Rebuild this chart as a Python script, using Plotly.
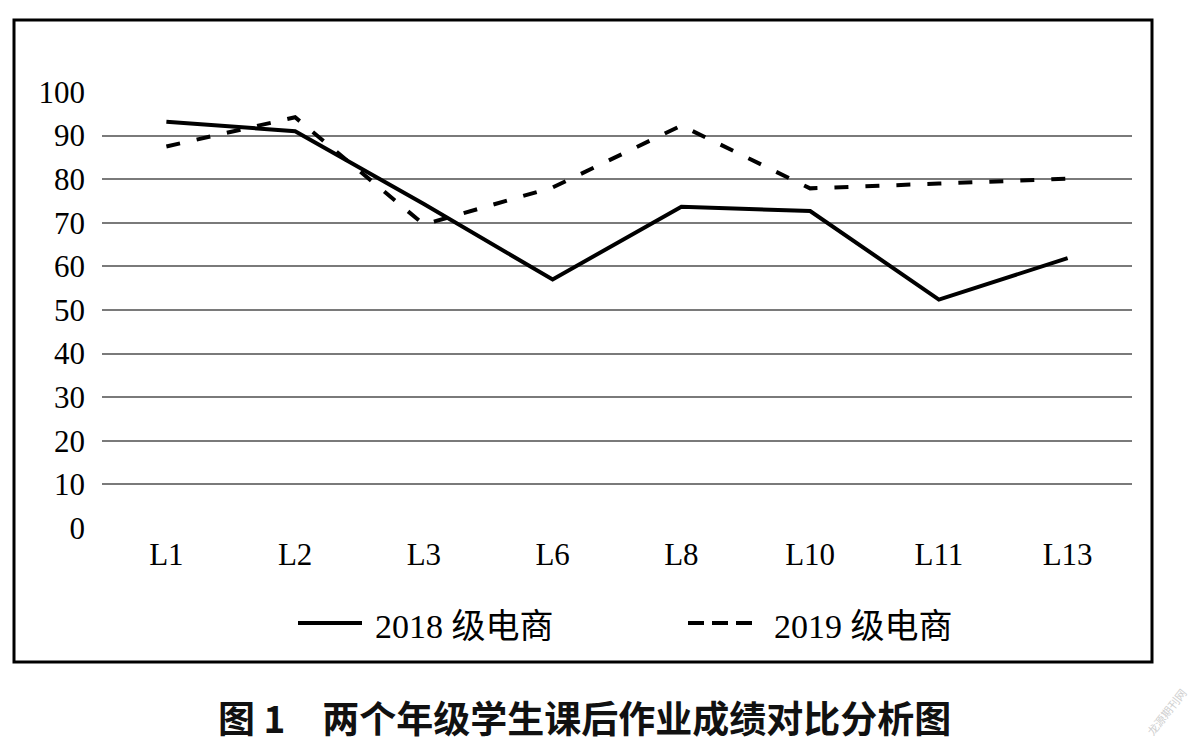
import plotly.graph_objects as go

categories = ["L1", "L2", "L3", "L6", "L8", "L10", "L11", "L13"]
scores_2018 = [93.2, 91.0, 74.3, 57.0, 73.7, 72.7, 52.4, 61.9]
scores_2019 = [87.5, 94.2, 69.6, 78.1, 92.3, 77.9, 79.0, 80.1]
series_years = ["2018", "2019"]
series_suffix = "级电商"
series_names = [y + " " + series_suffix for y in series_years]
y_ticks = [0, 10, 20, 30, 40, 50, 60, 70, 80, 90, 100]
title_text = "图 1　两个年级学生课后作业成绩对比分析图"
watermark_text = "龙源期刊网"

W, H = 1200, 753
L, R, T, B = 102, 1132, 92, 528  # plot area in pixels


def px(x):
    return (x - L) / (R - L)


def py(y):
    return (B - y) / (B - T)


serif = "Liberation Serif, Times New Roman, serif"
DASH = "14px,17px"
LEGEND_DASH = "16px,8px"

fig = go.Figure()
fig.add_trace(go.Scatter(
    x=categories, y=scores_2018, mode="lines", name=series_names[0],
    line=dict(color="black", width=4), cliponaxis=False))
fig.add_trace(go.Scatter(
    x=categories, y=scores_2019, mode="lines", name=series_names[1],
    line=dict(color="black", width=4, dash=DASH), cliponaxis=False))

fig.update_layout(
    width=W, height=H,
    margin=dict(l=L, r=W - R, t=T, b=H - B, pad=0),
    paper_bgcolor="white", plot_bgcolor="white",
    font=dict(family=serif, size=31, color="black"),
    showlegend=False,
    xaxis=dict(type="category", range=[-0.5, len(categories) - 0.5],
               showgrid=False, zeroline=False, showline=False,
               ticks="", tickfont=dict(size=31), ticklabelstandoff=5, fixedrange=True),
    yaxis=dict(range=[0, 100], tickvals=y_ticks, showgrid=True, gridcolor="#7a7a7a",
               gridwidth=1.6, zeroline=False, showline=False, ticks="",
               tickfont=dict(size=31), ticklabelstandoff=16, fixedrange=True),
)

# outer frame
fig.add_shape(type="rect", xref="paper", yref="paper",
              x0=px(14), x1=px(1152), y0=py(662), y1=py(20),
              line=dict(color="black", width=3), layer="above")

# legend (drawn manually to match sample lengths)
legend_items = [
    (series_years[0], 298, 362, None, 373),
    (series_years[1], 688, 752, LEGEND_DASH, 772),
]
for year, lx0, lx1, dash, tx in legend_items:
    fig.add_shape(type="line", xref="paper", yref="paper",
                  x0=px(lx0), x1=px(lx1), y0=py(623), y1=py(623),
                  line=dict(color="black", width=4, dash=dash))
    label = (year + ' <span style="font-family:Noto Sans CJK SC">'
             + series_suffix + '</span>')
    fig.add_annotation(text=label, xref="paper", yref="paper",
                       x=px(tx), y=py(623), xanchor="left", yanchor="middle",
                       showarrow=False,
                       font=dict(family=serif, size=34, color="black"))

fig.add_annotation(text="<b>" + title_text + "</b>", xref="paper", yref="paper",
                   x=px(584), y=py(717), xanchor="center", yanchor="middle",
                   showarrow=False,
                   font=dict(family="Noto Sans CJK SC", size=37, color="#111111"))

fig.add_annotation(text=watermark_text, xref="paper", yref="paper",
                   x=px(1166), y=py(712), xanchor="center", yanchor="middle",
                   showarrow=False, textangle=-52,
                   font=dict(family="Noto Sans CJK SC", size=11, color="#cfcfcf"))

fig.write_html("out.html")
